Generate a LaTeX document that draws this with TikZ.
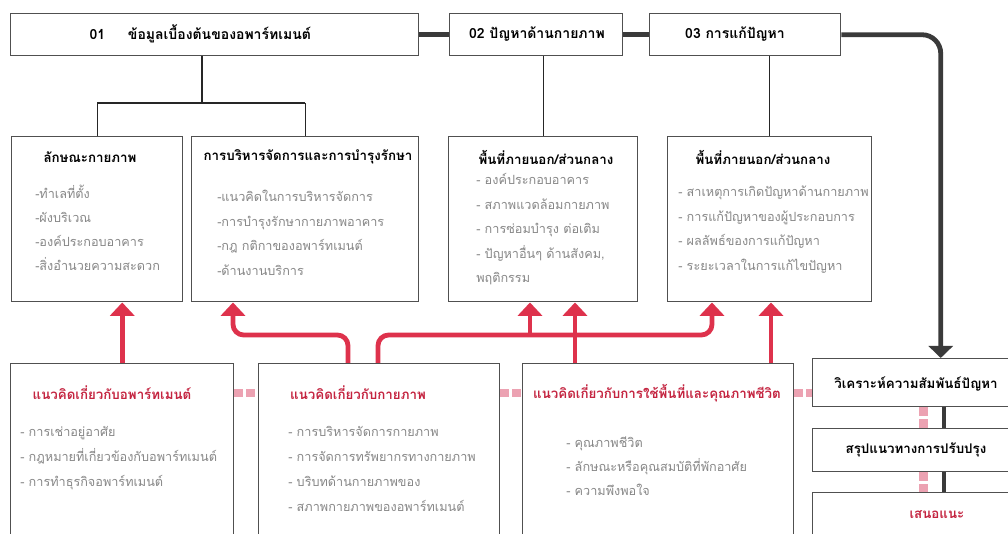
\documentclass[tikz,border=0pt]{standalone}
\usepackage{fontspec}
\setmainfont{Loma}[Script=Thai]
\usetikzlibrary{arrows.meta,calc,positioning}
\definecolor{boxline}{RGB}{80,80,80}
\definecolor{linkdark}{RGB}{58,58,58}
\definecolor{linkred}{RGB}{222,50,76}
\definecolor{titlered}{RGB}{196,36,64}
\definecolor{linkpink}{RGB}{236,162,178}
\definecolor{itemgray}{RGB}{135,135,135}
\newcommand{\pxl}[1]{#1*0.75pt}

\tikzset{
  box/.style={draw=boxline, line width=1.1pt, fill=white, anchor=north west, inner sep=0pt},
  toptext/.style={font=\fontsize{10.5}{12}\selectfont\bfseries},
  headtext/.style={font=\fontsize{10}{12}\selectfont\bfseries},
  redhead/.style={headtext, text=titlered},
  itemtext/.style={font=\fontsize{9.5}{12}\selectfont, text=itemgray, anchor=west,
    text height=9pt, text depth=3pt, inner sep=0pt},
  thinlink/.style={draw=black!85, line width=1.1pt},
  darklink/.style={draw=linkdark, line width=3.6pt},
  redarrow/.style={draw=linkred, line width=3.6pt, -{Triangle[width=18pt,length=10pt]}},
  pinklink/.style={draw=linkpink, line width=6.5pt, dash pattern=on 6.5pt off 2.5pt}
}

\begin{document}
\begin{tikzpicture}[x=0.75pt,y=-0.75pt]
  \useasboundingbox (0,0) rectangle (1008,534);
  \clip (0,0) rectangle (1008,534);

  % Top row
  \node[box, minimum width=\pxl{408}, minimum height=\pxl{42}] (top01) at (10,13) {};
  \node[box, minimum width=\pxl{173}, minimum height=\pxl{42}] (top02) at (449,13) {};
  \node[box, minimum width=\pxl{191}, minimum height=\pxl{42}] (top03) at (649,13) {};
  \node[toptext, anchor=west] (l01) at (85,34) {01\hspace{17pt}ข้อมูลเบื้องต้นของอพาร์ทเมนต์};
  \node[toptext] (l02) at (537,34) {02 ปัญหาด้านกายภาพ};
  \node[toptext] (l03) at (735,34) {03 การแก้ปัญหา};

  % Middle row
  \node[box, minimum width=\pxl{171}, minimum height=\pxl{165}] (midA) at (11,136) {};
  \node[box, minimum width=\pxl{227}, minimum height=\pxl{165}] (midB) at (191,136) {};
  \node[box, minimum width=\pxl{189}, minimum height=\pxl{165}] (midC) at (448,136) {};
  \node[box, minimum width=\pxl{204}, minimum height=\pxl{165}] (midD) at (667,136) {};

  % Bottom row
  \node[box, minimum width=\pxl{223}, minimum height=\pxl{200}] (botE) at (10,363) {};
  \node[box, minimum width=\pxl{241}, minimum height=\pxl{200}] (botF) at (258,363) {};
  \node[box, minimum width=\pxl{271}, minimum height=\pxl{200}] (botG) at (522,363) {};

  % Right column
  \node[box, minimum width=\pxl{256}, minimum height=\pxl{48}] (r1) at (812,358) {};
  \node[box, minimum width=\pxl{256}, minimum height=\pxl{43}] (r2) at (812,428) {};
  \node[box, minimum width=\pxl{256}, minimum height=\pxl{80}] (r3) at (812,492) {};

  % Top links
  \draw[darklink] (top01) -- (top02);
  \draw[darklink] (top02) -- (top03);
  \draw[darklink, rounded corners=14pt, -{Triangle[width=18pt,length=9pt]}] (top03.east) -| (r1.north);

  % Tree lines
  \coordinate (j01) at (202,103);
  \draw[thinlink] (top01.south -| j01) -- (j01);
  \draw[thinlink] (midA.north |- j01) -- (midB.north |- j01);
  \draw[thinlink] (midA.north |- j01) -- (midA.north);
  \draw[thinlink] (midB.north |- j01) -- (midB.north);
  \draw[thinlink] (midC.north |- top02.south) -- (midC.north);
  \draw[thinlink] (midD.north |- top03.south) -- (midD.north);

  % Red arrows
  \coordinate (redrow) at (0,335);
  \coordinate (fOutA) at ($(botF.north west)+(90,0)$);
  \coordinate (fOutB) at ($(botF.north west)+(120,0)$);
  \coordinate (bIn) at ($(midB.south west)+(42,0)$);
  \coordinate (cInA) at ($(midC.south west)+(82,0)$);
  \coordinate (cInB) at ($(midC.south west)+(127,0)$);
  \coordinate (dInA) at ($(midD.south west)+(45,0)$);
  \coordinate (dInB) at ($(midD.south west)+(104,0)$);
  \draw[redarrow] (botE.north) -- (botE.north |- midA.south);
  \draw[redarrow, rounded corners=8pt] (fOutA) -- (fOutA |- redrow) -- (bIn |- redrow) -- (bIn);
  \draw[redarrow, rounded corners=8pt] (fOutB) -- (fOutB |- redrow) -- (dInA |- redrow) -- (dInA);
  \draw[redarrow] (cInA |- redrow) -- (cInA);
  \draw[redarrow] (cInB |- botG.north) -- (cInB);
  \draw[redarrow] (dInB |- botG.north) -- (dInB);

  % Pink links
  \coordinate (pinkrow) at (0,393);
  \draw[pinklink] (botE.east |- pinkrow) -- (botF.west |- pinkrow);
  \draw[pinklink] (botF.east |- pinkrow) -- (botG.west |- pinkrow);
  \draw[pinklink] (botG.east |- pinkrow) -- (r1.west |- pinkrow);
  \draw[pinklink] ($(r1.south)+(-17,0)$) -- ($(r2.north)+(-17,0)$);
  \draw[pinklink] ($(r2.south)+(-17,0)$) -- ($(r3.north)+(-17,0)$);
  \draw[darklink, line width=3pt] ($(r1.south)+(3,0)$) -- ($(r2.north)+(3,0)$);
  \draw[darklink, line width=3pt] ($(r2.south)+(3,0)$) -- ($(r3.north)+(3,0)$);

  % Headings
  \node[headtext] (hA) at (90,157) {ลักษณะกายภาพ};
  \node[headtext] (hB) at (308,157) {การบริหารจัดการและการบำรุงรักษา};
  \node[headtext] (hC) at (546,157) {พื้นที่ภายนอก/ส่วนกลาง};
  \node[headtext] (hD) at (763,157) {พื้นที่ภายนอก/ส่วนกลาง};
  \node[redhead] (hE) at (112,393) {แนวคิดเกี่ยวกับอพาร์ทเมนต์};
  \node[redhead] (hF) at (358,393) {แนวคิดเกี่ยวกับกายภาพ};
  \node[redhead] (hG) at (657,393) {แนวคิดเกี่ยวกับการใช้พื้นที่และคุณภาพชีวิต};
  \node[headtext] (h1) at (916,384) {วิเคราะห์ความสัมพันธ์ปัญหา};
  \node[headtext] (h2) at (916,450) {สรุปแนวทางการปรับปรุง};
  \node[redhead] (h3) at (937,515) {เสนอแนะ};

  % Items
  \foreach \t [count=\i] in {-ทำเลที่ตั้ง, -ผังบริเวณ, -องค์ประกอบอาคาร, -สิ่งอำนวยความสะดวก}
    \node[itemtext] (iA\i) at (35,{195+24*(\i-1)}) {\t};
  \foreach \t [count=\i] in {-แนวคิดในการบริหารจัดการ, -การบำรุงรักษากายภาพอาคาร,
      -กฎ กติกาของอพาร์ทเมนต์, -ด้านงานบริการ}
    \node[itemtext] (iB\i) at (217,{198+24.5*(\i-1)}) {\t};
  \foreach \t [count=\i] in {- องค์ประกอบอาคาร, - สภาพแวดล้อมกายภาพ, - การซ่อมบำรุง ต่อเติม,
      {- ปัญหาอื่นๆ ด้านสังคม,}, พฤติกรรม}
    \node[itemtext] (iC\i) at (476,{181+24.5*(\i-1)}) {\t};
  \foreach \t [count=\i] in {- สาเหตุการเกิดปัญหาด้านกายภาพ, - การแก้ปัญหาของผู้ประกอบการ,
      - ผลลัพธ์ของการแก้ปัญหา, - ระยะเวลาในการแก้ไขปัญหา}
    \node[itemtext] (iD\i) at (678,{193+24.5*(\i-1)}) {\t};
  \foreach \t [count=\i] in {- การเช่าอยู่อาศัย, - กฎหมายที่เกี่ยวข้องกับอพาร์ทเมนต์,
      - การทำธุรกิจอพาร์ทเมนต์}
    \node[itemtext] (iE\i) at (20,{433+25*(\i-1)}) {\t};
  \foreach \t [count=\i] in {- การบริหารจัดการกายภาพ, - การจัดการทรัพยากรทางกายภาพ,
      - บริบทด้านกายภาพของ, - สภาพกายภาพของอพาร์ทเมนต์}
    \node[itemtext] (iF\i) at (288,{433+25*(\i-1)}) {\t};
  \foreach \t [count=\i] in {- คุณภาพชีวิต, - ลักษณะหรือคุณสมบัติที่พักอาศัย, - ความพึงพอใจ}
    \node[itemtext] (iG\i) at (566,{444+24*(\i-1)}) {\t};
\end{tikzpicture}
\end{document}
